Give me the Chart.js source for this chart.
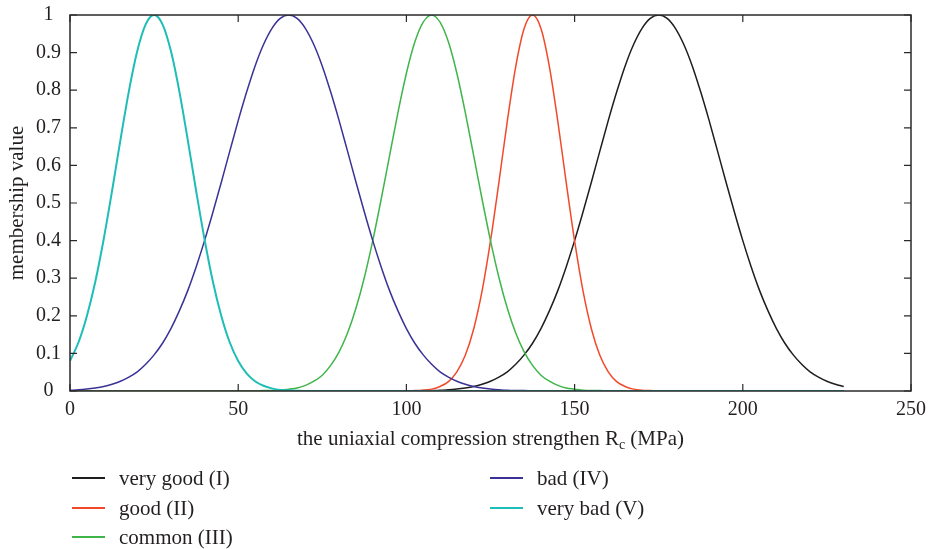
<!DOCTYPE html>
<html>
<head>
<meta charset="utf-8">
<script src="https://cdn.jsdelivr.net/npm/chart.js@4.4.1/dist/chart.umd.min.js"></script>
<style>
  html, body { margin: 0; padding: 0; background: #fff; }
  #wrap { position: relative; width: 929px; height: 549px; }
</style>
</head>
<body>
<div id="wrap"><canvas id="chart" width="929" height="549"></canvas></div>
<script>
// sample positions along Rc (MPa)
const xs = [
  0, 2.5, 5, 7.5, 10, 12.5, 15, 17.5, 20, 22.5, 25, 27.5, 30, 32.5, 35, 37.5, 40, 42.5, 45, 47.5,
  50, 52.5, 55, 57.5, 60, 62.5, 65, 67.5, 70, 72.5, 75, 77.5, 80, 82.5, 85, 87.5, 90, 92.5, 95, 97.5,
  100, 102.5, 105, 107.5, 110, 112.5, 115, 117.5, 120, 122.5, 125, 127.5, 130, 132.5, 135, 137.5, 140, 142.5, 145, 147.5,
  150, 152.5, 155, 157.5, 160, 162.5, 165, 167.5, 170, 172.5, 175, 177.5, 180, 182.5, 185, 187.5, 190, 192.5, 195, 197.5,
  200, 202.5, 205, 207.5, 210, 212.5, 215, 217.5, 220, 222.5, 225, 227.5, 230
];

const veryGood = [
  0, 0, 0, 0, 0, 0, 0, 0, 0, 0, 0, 0, 0, 0, 0, 0, 0, 0, 0, 0,
  0, 0, 0, 0, 0, 0, 0, 0, 0, 0, 0, 0, 0, 0, 0, 0, 0, 0, 0, 0,
  0, 0, 0.001, 0.001, 0.002, 0.003, 0.005, 0.008, 0.012, 0.018, 0.026, 0.037, 0.051, 0.071, 0.096, 0.127, 0.166, 0.213, 0.267, 0.330,
  0.400, 0.476, 0.556, 0.638, 0.719, 0.795, 0.864, 0.921, 0.964, 0.991, 1, 0.991, 0.964, 0.921, 0.864, 0.795, 0.719, 0.638, 0.556, 0.476,
  0.400, 0.330, 0.267, 0.213, 0.166, 0.127, 0.096, 0.071, 0.051, 0.037, 0.026, 0.018, 0.012
];

const good = [
  0, 0, 0, 0, 0, 0, 0, 0, 0, 0, 0, 0, 0, 0, 0, 0, 0, 0, 0, 0,
  0, 0, 0, 0, 0, 0, 0, 0, 0, 0, 0, 0, 0, 0, 0, 0, 0, 0, 0, 0,
  0, 0.001, 0.002, 0.005, 0.012, 0.025, 0.051, 0.095, 0.165, 0.266, 0.399, 0.555, 0.718, 0.863, 0.964, 1, 0.964, 0.863, 0.718, 0.555,
  0.399, 0.266, 0.165, 0.095, 0.051, 0.025, 0.012, 0.005, 0.002, 0.001, 0, 0, 0, 0, 0, 0, 0, 0, 0, 0,
  0, 0, 0, 0, 0, 0, 0, 0, 0, 0, 0, 0, 0
];

const common = [
  0, 0, 0, 0, 0, 0, 0, 0, 0, 0, 0, 0, 0, 0, 0, 0, 0, 0, 0, 0,
  0, 0, 0, 0.001, 0.001, 0.002, 0.005, 0.008, 0.015, 0.026, 0.042, 0.068, 0.104, 0.154, 0.220, 0.302, 0.400, 0.510, 0.626, 0.741,
  0.845, 0.928, 0.981, 1, 0.981, 0.928, 0.845, 0.741, 0.626, 0.510, 0.400, 0.302, 0.220, 0.154, 0.104, 0.068, 0.042, 0.026, 0.015, 0.008,
  0.005, 0.002, 0.001, 0.001, 0, 0, 0, 0, 0, 0, 0, 0, 0, 0, 0, 0, 0, 0, 0, 0,
  0, 0, 0, 0, 0, 0, 0, 0, 0, 0, 0, 0, 0
];

const bad = [
  0.002, 0.003, 0.005, 0.008, 0.012, 0.018, 0.026, 0.037, 0.051, 0.071, 0.096, 0.127, 0.166, 0.213, 0.267, 0.330, 0.400, 0.476, 0.556, 0.638,
  0.719, 0.795, 0.864, 0.921, 0.964, 0.991, 1, 0.991, 0.964, 0.921, 0.864, 0.795, 0.719, 0.638, 0.556, 0.476, 0.400, 0.330, 0.267, 0.213,
  0.166, 0.127, 0.096, 0.071, 0.051, 0.037, 0.026, 0.018, 0.012, 0.008, 0.005, 0.003, 0.002, 0.001, 0.001, 0, 0, 0, 0, 0,
  0, 0, 0, 0, 0, 0, 0, 0, 0, 0, 0, 0, 0, 0, 0, 0, 0, 0, 0, 0,
  0, 0, 0, 0, 0, 0, 0, 0, 0, 0, 0, 0, 0
];

const veryBad = [
  0.080, 0.129, 0.199, 0.290, 0.403, 0.532, 0.668, 0.797, 0.904, 0.975, 1, 0.975, 0.904, 0.797, 0.668, 0.532, 0.403, 0.290, 0.199, 0.129,
  0.080, 0.047, 0.026, 0.014, 0.007, 0.003, 0.002, 0.001, 0, 0, 0, 0, 0, 0, 0, 0, 0, 0, 0, 0,
  0, 0, 0, 0, 0, 0, 0, 0, 0, 0, 0, 0, 0, 0, 0, 0, 0, 0, 0, 0,
  0, 0, 0, 0, 0, 0, 0, 0, 0, 0, 0, 0, 0, 0, 0, 0, 0, 0, 0, 0,
  0, 0, 0, 0, 0, 0, 0, 0, 0, 0, 0, 0, 0
];

const seriesNames = ['very good (I)', 'good (II)', 'common (III)', 'bad (IV)', 'very bad (V)'];
const seriesData = [veryGood, good, common, bad, veryBad];
const colors = ['#1e1e1e', '#f2492b', '#3fb54a', '#3a3296', '#1fbdb7'];
const yTicks = [0, 0.1, 0.2, 0.3, 0.4, 0.5, 0.6, 0.7, 0.8, 0.9, 1];
const xTicks = [0, 50, 100, 150, 200, 250];

const FONT = "'Liberation Serif', 'DejaVu Serif', serif";
const TXT = '#231f20';

// legend slots (column-wise like the original figure)
const legendPos = [[72, 478], [72, 508], [72, 537], [490, 478], [490, 508]];

const framePlugin = {
  id: 'frame',
  afterDatasetsDraw(chart) {
    const { ctx, chartArea: a, scales } = chart;
    ctx.save();
    ctx.strokeStyle = '#2a2a2a';
    ctx.lineWidth = 1.5;
    ctx.strokeRect(a.left, a.top, a.right - a.left, a.bottom - a.top);
    ctx.lineWidth = 1.2;
    ctx.beginPath();
    xTicks.forEach(v => {
      const px = scales.x.getPixelForValue(v);
      ctx.moveTo(px, a.bottom); ctx.lineTo(px, a.bottom - 7);
      ctx.moveTo(px, a.top); ctx.lineTo(px, a.top + 7);
    });
    yTicks.forEach(v => {
      const py = scales.y.getPixelForValue(v);
      ctx.moveTo(a.left, py); ctx.lineTo(a.left + 7, py);
      ctx.moveTo(a.right, py); ctx.lineTo(a.right - 7, py);
    });
    ctx.stroke();
    ctx.restore();
  },
  afterDraw(chart) {
    const { ctx, chartArea: a } = chart;
    ctx.save();
    ctx.fillStyle = TXT;
    // x axis title with subscript
    const big = '21px ' + FONT, small = '14px ' + FONT;
    const p1 = 'the uniaxial compression strengthen R', p2 = 'c', p3 = ' (MPa)';
    ctx.font = big; const w1 = ctx.measureText(p1).width, w3 = ctx.measureText(p3).width;
    ctx.font = small; const w2 = ctx.measureText(p2).width;
    let x = (a.left + a.right) / 2 - (w1 + w2 + w3) / 2;
    const y = 445;
    ctx.textBaseline = 'alphabetic';
    ctx.textAlign = 'left';
    ctx.font = big; ctx.fillText(p1, x, y); x += w1;
    ctx.font = small; ctx.fillText(p2, x, y + 4); x += w2;
    ctx.font = big; ctx.fillText(p3, x, y);

    // legend
    ctx.font = big;
    ctx.textBaseline = 'middle';
    chart.data.datasets.forEach((ds, i) => {
      const [lx, ly] = legendPos[i];
      ctx.strokeStyle = ds.borderColor;
      ctx.lineWidth = 2;
      ctx.beginPath();
      ctx.moveTo(lx, ly); ctx.lineTo(lx + 33, ly);
      ctx.stroke();
      ctx.fillStyle = TXT;
      ctx.fillText(ds.label, lx + 47, ly + 1);
    });
    ctx.restore();
  }
};

new Chart(document.getElementById('chart'), {
  type: 'line',
  data: {
    datasets: seriesNames.map((name, i) => ({
      label: name,
      data: xs.map((x, j) => ({ x: x, y: seriesData[i][j] })),
      borderColor: colors[i],
      borderWidth: i === 4 ? 2 : 1.5,
      pointRadius: 0,
      cubicInterpolationMode: 'monotone',
      fill: false,
      order: 5 - i
    }))
  },
  options: {
    responsive: false,
    animation: false,
    layout: { padding: { top: 15, right: 18, left: 0, bottom: 118 } },
    plugins: { legend: { display: false }, tooltip: { enabled: false } },
    scales: {
      x: {
        type: 'linear', min: 0, max: 250,
        afterFit: s => { s.height = 40; s.paddingLeft = 0; s.paddingRight = 0; },
        afterBuildTicks: s => { s.ticks = xTicks.map(v => ({ value: v })); },
        grid: { display: false, drawTicks: false },
        border: { display: false },
        ticks: { padding: 7, color: TXT, font: { family: FONT, size: 20 }, maxRotation: 0 }
      },
      y: {
        min: 0, max: 1,
        afterFit: s => { s.width = 70; s.paddingTop = 0; s.paddingBottom = 0; },
        afterBuildTicks: s => { s.ticks = yTicks.map(v => ({ value: v })); },
        grid: { display: false, drawTicks: false },
        border: { display: false },
        ticks: { padding: 9, crossAlign: 'center', color: TXT, font: { family: FONT, size: 20 }, callback: v => String(+v.toFixed(1)) },
        title: { display: true, text: 'membership value', color: TXT, font: { family: FONT, size: 21 }, padding: { top: 5, bottom: 0 } }
      }
    }
  },
  plugins: [framePlugin]
});
</script>
</body>
</html>
